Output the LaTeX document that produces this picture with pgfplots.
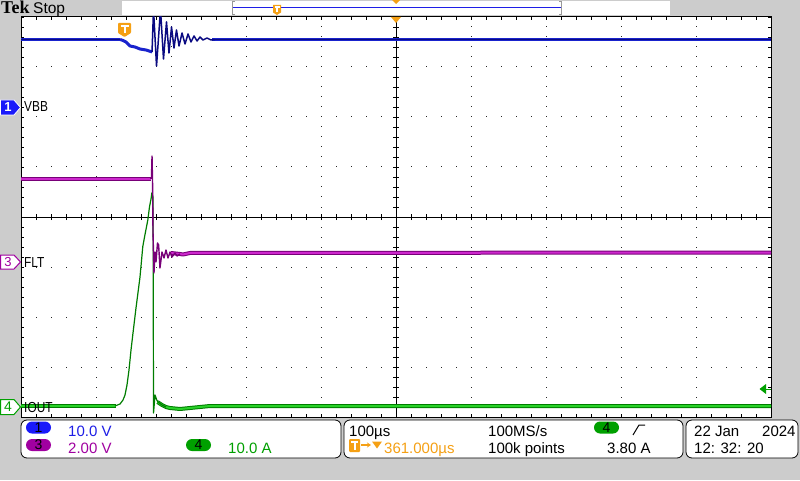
\documentclass[border=0pt]{standalone}
\usepackage{pgfplots}
\pgfplotsset{compat=1.18}
\usepackage{fontspec}
\setmainfont{Liberation Sans}
\newfontfamily\tekfont{Liberation Serif}
\newfontfamily\narrowfont[FakeStretch=0.82]{Liberation Sans}
\usetikzlibrary{arrows.meta}
\definecolor{bg}{RGB}{204,204,204}
\definecolor{chone}{RGB}{25,35,205}
\definecolor{chonedark}{RGB}{10,10,130}
\definecolor{chthree}{RGB}{205,40,205}
\definecolor{chthreedark}{RGB}{120,0,120}
\definecolor{chfour}{RGB}{40,210,40}
\definecolor{chfourdark}{RGB}{0,125,0}
\definecolor{tekorange}{RGB}{245,160,20}
\definecolor{txtblue}{RGB}{30,30,230}
\definecolor{txtpurple}{RGB}{160,0,160}
\definecolor{txtgreen}{RGB}{0,160,0}
\definecolor{ovalblue}{RGB}{25,25,250}
\begin{document}
\begin{tikzpicture}
\begin{scope}[x=1pt,y=1pt]
\useasboundingbox (0,0) rectangle (800,480);
\fill[bg] (0,0) rectangle (800,480);
\fill[white] (21,63) rectangle (771,463);
% grid dots
\foreach \k in {96,171,246,321,471,546,621,696}{
  \foreach \j in {0,...,40}{\fill[black!85] (\k-0.5,63+10*\j-0.5) rectangle ++(1,1);}
}
\foreach \m in {113,163,213,313,363,413}{
  \foreach \i in {0,...,50}{\fill[black!85] (21+15*\i-0.5,\m-0.5) rectangle ++(1,1);}
}
% centre lines
\draw[black, line width=1pt] (396,63)--(396,463) (21,263)--(771,263);
\foreach \i in {0,...,50}{
  \draw[black, line width=0.8pt] (21+15*\i,260)--(21+15*\i,266);
  \draw[black, line width=0.8pt] (21+15*\i,63)--(21+15*\i,66);
  \draw[black, line width=0.8pt] (21+15*\i,463)--(21+15*\i,460);
}
\foreach \j in {0,...,40}{
  \draw[black, line width=0.8pt] (393,63+10*\j)--(399,63+10*\j);
  \draw[black, line width=0.8pt] (21,63+10*\j)--(24,63+10*\j);
  \draw[black, line width=0.8pt] (771,63+10*\j)--(768,63+10*\j);
}
\draw[black, line width=1pt] (21,63) rectangle (771,463);
\end{scope}

\begin{axis}[at={(21pt,63pt)}, anchor=south west, width=750pt, height=400pt,
  scale only axis, xmin=-500, xmax=500, ymin=-4, ymax=4, hide axis, clip=true]
% ---- Ch4 IOUT (green)
\addplot[no marks, chfourdark, line width=4pt] coordinates {(-500,-3.78) (-374,-3.78)};
\addplot[no marks, chfour, line width=2pt] coordinates {(-500,-3.78) (-374,-3.78)};
\addplot[no marks, chfourdark, line width=4pt, line join=round] coordinates {(-318,-3.70) (-312,-3.76) (-306.67,-3.80) (-301.33,-3.82) (-288,-3.84) (-274.67,-3.82) (-261.33,-3.80) (-248,-3.78) (500,-3.78)};
\addplot[no marks, chfour, line width=2pt, line join=round] coordinates {(-318,-3.70) (-312,-3.76) (-306.67,-3.80) (-301.33,-3.82) (-288,-3.84) (-274.67,-3.82) (-261.33,-3.80) (-248,-3.78) (500,-3.78)};
\addplot[no marks, chfourdark, line width=1.2pt, line join=round] coordinates {
(-374.67,-3.78) (-368,-3.74) (-364,-3.66) (-361.33,-3.56) (-358.67,-3.36) (-356,-3.06)
(-353.33,-2.66) (-350.67,-2.32) (-346.67,-1.82) (-341.33,-1.20) (-337.6,-0.59) (-335.3,-0.40)
(-330.9,-0.06) (-328.7,0.20) (-326.4,0.38) (-325.6,0.48) (-324,0.40) (-323.3,-3.92)
(-321.3,-3.56) (-319,-3.66) (-317.33,-3.70) (-312,-3.76) (-306.67,-3.80)};
% ---- Ch3 FLT (purple)
\addplot[no marks, chthreedark, line width=4pt] coordinates {(-500,0.76) (-327,0.76)};
\addplot[no marks, chthree, line width=2pt] coordinates {(-500,0.76) (-327,0.76)};
\addplot[no marks, chthreedark, line width=4pt, line join=round] coordinates {(-300,-0.72) (-288,-0.74) (-284,-0.75) (-274.7,-0.72) (500,-0.71)};
\addplot[no marks, chthree, line width=2pt, line join=round] coordinates {(-300,-0.72) (-288,-0.74) (-284,-0.75) (-274.7,-0.72) (500,-0.71)};
\addplot[no marks, chthreedark, line width=1.4pt, line join=round] coordinates {
(-327,0.76) (-326,0.80) (-325.3,1.22) (-324.5,0.60) (-324,-0.30) (-322.7,-1.12) (-321.3,-0.70)
(-320,-0.90) (-318,-0.52) (-316.5,-0.56) (-314.7,-1.02) (-312,-0.70) (-309.3,-0.82) (-306.7,-0.66)
(-304,-0.82) (-301.3,-0.70) (-298.7,-0.80) (-294.7,-0.72) (-292,-0.78) (-288,-0.74)};
% ---- Ch1 VBB (blue)
\addplot[no marks, chone, line width=3.5pt] coordinates {(-500,3.55) (-368,3.55)};
\addplot[no marks, chone, line width=3.5pt] coordinates {(-245,3.55) (500,3.55)};
\addplot[no marks, chonedark, line width=1pt] coordinates {(-500,3.55) (-368,3.55)};
\addplot[no marks, chonedark, line width=1pt] coordinates {(-245,3.55) (500,3.55)};
\addplot[no marks, chone, line width=3pt, line join=round] coordinates {
(-368,3.55) (-364,3.53) (-360,3.50) (-354.7,3.42) (-348,3.40) (-341.3,3.36) (-333.3,3.34) (-325.3,3.30)};
\addplot[no marks, chonedark, line width=1.5pt, line join=round] coordinates {
(-325.3,3.30) (-323.3,4.15) (-319.3,3.02) (-314,4.15) (-310,3.16) (-306,3.90) (-302.7,3.28)
(-299.3,3.80) (-296,3.38) (-292.7,3.74) (-289.3,3.42) (-285.3,3.68) (-281.3,3.46) (-277.3,3.66)
(-273.3,3.50) (-269.3,3.62) (-265.3,3.52) (-261.3,3.60) (-257.3,3.54) (-252,3.58) (-246.7,3.54) (-241.3,3.55)};
\end{axis}

\begin{scope}[x=1pt,y=1pt]
% top bar
\node[anchor=base west, inner sep=0, font=\tekfont\bfseries\fontsize{18}{18}\selectfont] at (1,466) {Tek};
\node[anchor=base west, inner sep=0, font=\fontsize{15.5}{16}\selectfont] at (33,466) {Stop};
\fill[white] (122,465) rectangle (670,479);
\draw[black!40, line width=1pt] (235,465.5)--(232.5,465.5)--(232.5,478.5)--(235,478.5);
\draw[black!40, line width=1pt] (559,465.5)--(561.5,465.5)--(561.5,478.5)--(559,478.5);
\draw[txtblue, line width=0.8pt] (233,473)--(561,473);
\fill[tekorange] (392,480)--(400,480)--(396,476)--cycle;
\fill[tekorange] (391,463)--(401,463)--(396,457)--cycle;
% small T in record view
\begin{scope}[shift={(277,465)}]
\fill[tekorange] (-4,2.5)--(-4,10)--(4,10)--(4,2.5)--(0,0)--cycle;
\draw[white, line width=1.2pt] (-2.5,8)--(2.5,8) (0,8)--(0,2.5);
\end{scope}
% trigger T
\begin{scope}[shift={(124.5,443)}]
\fill[tekorange, rounded corners=0.8pt] (-6.5,4)--(-6.5,14)--(6.5,14)--(6.5,4)--(0,0)--cycle;
\draw[white, line width=2pt] (-4,11)--(4,11) (0,11)--(0,3.5);
\end{scope}
% channel markers
\filldraw[fill=ovalblue, draw=white, line width=0.8pt] (0.5,365)--(14,365)--(20.5,372.5)--(14,380)--(0.5,380)--cycle;
\node[inner sep=0, text=white, font=\bfseries\fontsize{13}{13}\selectfont] at (8,372.5) {1};
\filldraw[fill=white, draw=txtpurple, line width=1pt] (0.5,211)--(14,211)--(20.5,218)--(14,225)--(0.5,225)--cycle;
\node[inner sep=0, text=txtpurple, font=\fontsize{13}{13}\selectfont] at (8,218) {3};
\filldraw[fill=white, draw=txtgreen, line width=1pt] (0.5,65.5)--(14,65.5)--(20.5,73)--(14,80.5)--(0.5,80.5)--cycle;
\node[inner sep=0, text=txtgreen, font=\fontsize{14}{14}\selectfont] at (8,73) {4};
\node[anchor=base west, inner sep=0, font=\narrowfont\fontsize{14.5}{15}\selectfont] at (24,368) {VBB};
\node[anchor=base west, inner sep=0, font=\narrowfont\fontsize{14.5}{15}\selectfont] at (24,213) {FLT};
\node[anchor=base west, inner sep=0, font=\narrowfont\fontsize{14.5}{15}\selectfont] at (24,68) {IOUT};
% trigger level arrow
\fill[txtgreen] (759.5,91)--(766,96)--(766,86)--cycle;
\draw[txtgreen, line width=1pt] (765,91)--(771,91);
% bottom panels
\filldraw[fill=white, draw=black, line width=0.8pt, rounded corners=6pt] (21,22) rectangle (341,60);
\filldraw[fill=white, draw=black, line width=0.8pt, rounded corners=6pt] (344,22) rectangle (683,60);
\filldraw[fill=white, draw=black, line width=0.8pt, rounded corners=6pt] (686,22) rectangle (798,60);
\fill[ovalblue, rounded corners=6pt] (26,46.5) rectangle (51,58.5);
\node[inner sep=0, font=\fontsize{14}{14}\selectfont] at (38.5,52.5) {1};
\fill[txtpurple, rounded corners=6pt] (26,29) rectangle (51,41);
\node[inner sep=0, font=\fontsize{14}{14}\selectfont] at (38.5,35) {3};
\fill[txtgreen, rounded corners=6pt] (186,29) rectangle (211,41);
\node[inner sep=0, font=\fontsize{14}{14}\selectfont] at (198.5,35) {4};
\fill[txtgreen, rounded corners=6pt] (594,46.5) rectangle (619,58.5);
\node[inner sep=0, font=\fontsize{14}{14}\selectfont] at (606.5,52.5) {4};
\begin{scope}[every node/.style={anchor=base west, inner sep=0, font=\fontsize{15}{16}\selectfont}]
\node[text=txtblue] at (68,44) {10.0 V};
\node[text=txtpurple] at (68,27) {2.00 V};
\node[text=txtgreen] at (228,27) {10.0 A};
\node at (349,44) {100µs};
\node[text=tekorange] at (384,27) {361.000µs};
\node at (488,44) {100MS/s};
\node at (488,27) {100k points};
\node at (607,27) {3.80 A};
\node at (694,44) {22 Jan};
\node at (762,44) {2024};
\node at (694,27) {12: 32: 20};
\end{scope}
\fill[tekorange, rounded corners=1pt] (349,28) rectangle (360,41);
\draw[white, line width=2pt] (351,38)--(358,38) (354.5,38)--(354.5,30);
\draw[tekorange, line width=1.2pt, -{Stealth[length=4pt,width=5pt]}] (361,35)--(371,35);
\fill[tekorange] (372,38.5)--(382,38.5)--(377,31.5)--cycle;
\draw[black, line width=1pt] (633,45)--(639,55)--(645,55);
\end{scope}
\end{tikzpicture}
\end{document}
